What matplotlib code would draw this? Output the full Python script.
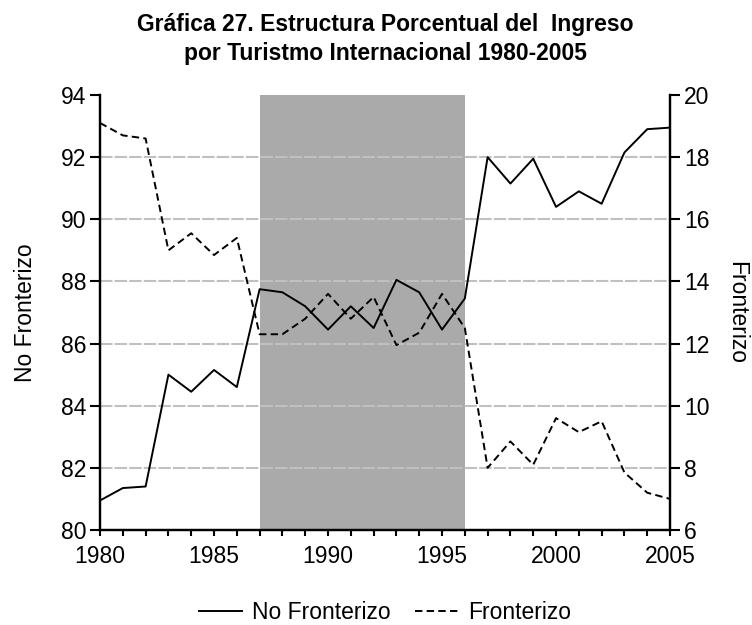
import matplotlib.pyplot as plt
from matplotlib.lines import Line2D

plt.rcParams['font.family'] = ['Liberation Sans', 'DejaVu Sans']

# datos
anios = list(range(1980, 2006))
no_fronterizo = [80.95, 81.35, 81.4, 85.0, 84.45, 85.15, 84.6, 87.75, 87.65, 87.2,
                 86.45, 87.2, 86.5, 88.05, 87.65, 86.45, 87.45, 92.0, 91.15, 91.95,
                 90.4, 90.9, 90.5, 92.15, 92.9, 92.95]
fronterizo = [19.1, 18.7, 18.6, 15.0, 15.55, 14.85, 15.4, 12.3, 12.3, 12.8,
              13.6, 12.8, 13.5, 11.95, 12.35, 13.6, 12.5, 8.0, 8.85, 8.1,
              9.6, 9.15, 9.5, 7.85, 7.2, 7.0]
periodo_sombra = (1987, 1996)

fs = 16.5
guiones = (0, (3.8, 2.2))

fig = plt.figure(figsize=(7.52, 6.25), dpi=100)
ax = fig.add_axes([0.133, 0.152, 0.758, 0.696])
ax2 = ax.twinx()

ax.axvspan(periodo_sombra[0], periodo_sombra[1], color='#aaaaaa', zorder=0, lw=0)
for v in range(80, 94, 2):
    ax.axhline(v, color='#c0c0c0', lw=1.5, ls=(0, (6, 1)), zorder=0.5)

ax.plot(anios, no_fronterizo, color='black', lw=1.4, zorder=3)
ax2.plot(anios, fronterizo, color='black', lw=1.4, ls=guiones, zorder=3)

ax.set_xlim(1980, 2005)
ax.set_ylim(80, 94)
ax2.set_ylim(6, 20)
ax.set_yticks(range(80, 95, 2))
ax2.set_yticks(range(6, 21, 2))
ax.set_xticks(range(1980, 2006, 5))
ax.set_xticks(range(1980, 2006), minor=True)

for a in (ax, ax2):
    a.spines['top'].set_visible(False)
    for s in a.spines.values():
        s.set_linewidth(1.6)
    a.tick_params(axis='y', which='both', direction='out', width=1.5, length=7,
                  labelsize=fs, colors='black', pad=3)
ax.tick_params(axis='x', which='both', direction='out', width=1.5, length=4.5,
               labelsize=fs, pad=6)

ax.set_ylabel('No Fronterizo', fontsize=fs, va='center', ha='center')
ax.yaxis.set_label_coords(-0.1316, 0.5)
ax2.set_ylabel('Fronterizo', fontsize=fs, rotation=-90, va='center', ha='center')
ax2.yaxis.set_label_coords(1.117, 0.5)

fig.text(0.512, 0.979, 'Gráfica 27. Estructura Porcentual del  Ingreso\npor Turistmo Internacional 1980-2005',
         fontsize=fs, fontweight='bold', ha='center', va='top', linespacing=1.3)

handles = [Line2D([], [], color='black', lw=1.4),
           Line2D([], [], color='black', lw=1.4, ls=guiones)]
fig.legend(handles, ['No Fronterizo', 'Fronterizo'], loc='center', ncol=2,
           bbox_to_anchor=(0.512, 0.02), frameon=False, fontsize=fs,
           handlelength=1.9, handletextpad=0.4, columnspacing=1.1)

fig.savefig('out.png', dpi=100)
